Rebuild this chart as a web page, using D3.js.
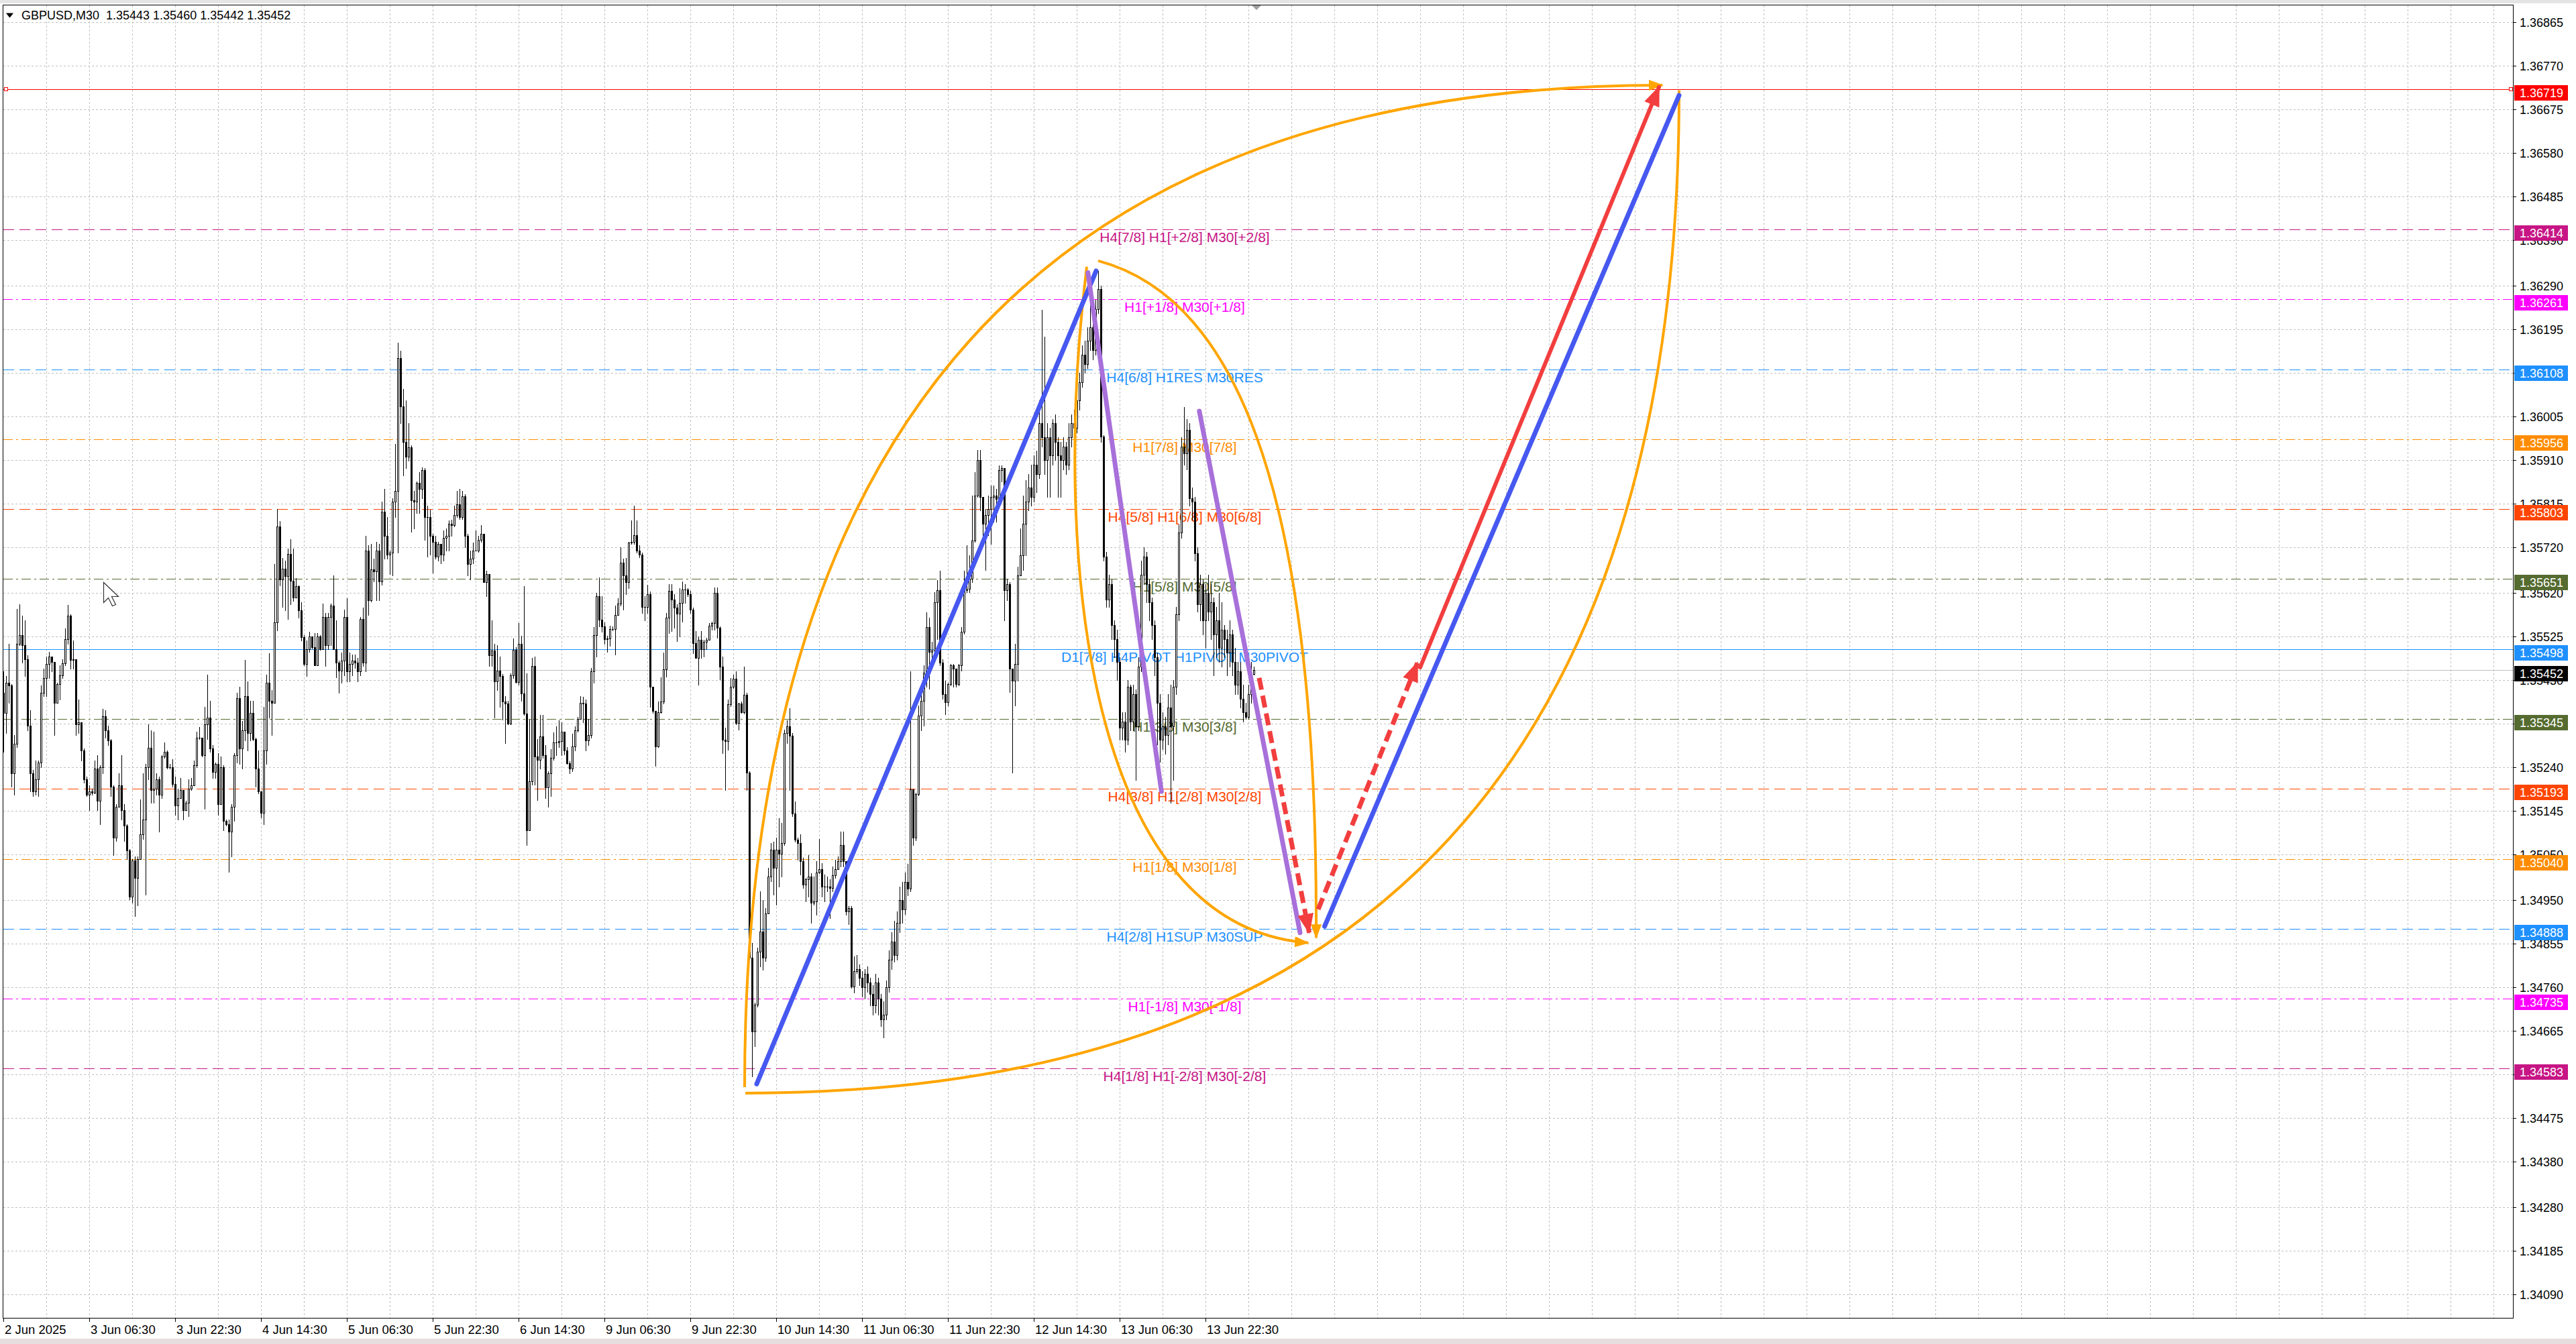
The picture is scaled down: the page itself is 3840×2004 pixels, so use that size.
<!DOCTYPE html>
<html><head><meta charset="utf-8">
<script src="https://cdn.jsdelivr.net/npm/d3@7"></script>
<style>html,body{margin:0;padding:0;background:#fff;overflow:hidden}svg{display:block}</style>
</head><body>
<svg id="chart" width="3840" height="2004"></svg>
<script>
// ---------- DATA (prices in points above BASE) ----------
const BASE = 1.34, POINT = 0.00001;
const symbolTitle = "GBPUSD,M30  1.35443 1.35460 1.35442 1.35452";
const firstOpen = 1402;
const closePts = [
1358,1425,1418,1227,1291,1509,1529,1506,1475,1331,
1227,1187,1214,1250,1402,1435,1465,1482,1470,1381,
1422,1440,1467,1519,1571,1474,1475,1334,1338,1277,
1214,1180,1187,1185,1237,1167,1240,1351,1321,1298,
1197,1086,1153,1200,1146,1113,1059,958,1036,998,
1039,1093,1126,1240,1282,1190,1193,1214,1180,1264,
1274,1240,1240,1204,1157,1173,1190,1146,1163,1193,
1200,1244,1304,1304,1267,1334,1348,1281,1230,1247,
1160,1240,1123,1116,1099,1153,1267,1391,1281,1321,
1395,1314,1358,1301,1237,1187,1140,1277,1425,1385,
1381,1556,1765,1650,1673,1657,1705,1647,1610,1635,
1583,1524,1465,1497,1526,1502,1462,1526,1497,
1568,1506,1568,1593,1498,1469,1451,1473,1568,1449,
1465,1473,1469,1449,1564,1468,1712,1605,1671,1667,
1712,1646,1798,1745,1704,1708,1819,1843,2133,2028,
1950,1917,1938,1823,1820,1860,1847,1888,1786,1786,
1745,1732,1699,1728,1704,1741,1745,1771,1768,1790,
1813,1786,1831,1745,1683,1695,1713,1713,1736,1749,
1644,1661,1484,1494,1428,1451,1439,1383,1379,1335,
1440,1496,1426,1510,1401,1357,1103,1209,1461,1264,
1256,1307,1266,1196,1227,1261,1294,1294,1297,1317,
1276,1249,1237,1286,1321,1346,1381,1379,1298,1311,
1450,1529,1613,1562,1547,1519,1521,1541,1541,1572,
1597,1687,1658,1644,1730,1732,1746,1712,1704,1590,
1590,1617,1416,1363,1286,1360,1383,1453,
1566,1625,1606,1588,1575,1598,1628,1628,1617,1584,
1511,1478,1518,1497,1513,1518,1549,1555,1620,1544,
1460,1300,1297,1377,1415,1433,1337,1379,1360,1398,
1229,824,664,722,838,882,824,921,1001,1060,
1020,1060,1052,1075,1315,1329,1309,1139,1082,1075,
1035,984,995,1001,944,948,1011,1018,980,980,
980,977,1004,1018,1035,1071,1035,926,933,761,
795,800,780,760,790,770,745,720,770,735,
690,700,760,820,860,830,900,950,930,990,
975,1192,1087,1181,1353,1385,1447,1546,1491,1495,
1600,1626,1469,1400,1382,1422,1462,1455,1422,1462,
1535,1626,1629,1651,1735,1833,1910,1830,1771,1790,
1804,1830,1833,1826,1888,1892,1626,1640,1455,1429,
1466,1658,1702,1771,1819,1850,1830,1900,1880,1990,
1960,1910,1960,1920,1990,1950,1920,1910,1940,1900,
1960,1990,1980,2040,2080,2140,2120,2170,2200,2150,
2240,2284,1961,1700,1606,1640,1550,1520,1470,1326,
1340,1300,1416,1340,1400,1330,1460,1660,1700,1640,
1600,1550,1480,1380,1300,1330,1310,1370,1330,1416,
1573,1752,1939,1925,1976,1827,1820,1707,1595,1640,
1560,1620,1580,1600,1530,1560,1500,1540,1520,1490,
1530,1470,1420,1450,1390,1360,1350,1400,1443,1452];
const highPts = [
1449,1439,1509,1422,1311,1585,1596,1571,1561,1485,
1365,1234,1254,1254,1418,1455,1482,1492,1482,1470,
1425,1462,1475,1543,1594,1573,1516,1475,1388,1338,
1281,1220,1200,1193,1254,1267,1244,1368,1365,1331,
1301,1200,1160,1227,1267,1160,1116,1062,1039,1046,
1046,1170,1227,1247,1334,1321,1318,1227,1220,1267,
1294,1277,1247,1257,1220,1193,1217,1190,1167,1214,
1217,1254,1318,1328,1304,1371,1442,1385,1288,1250,
1271,1264,1244,1126,1126,1160,1271,1402,1415,1341,
1474,1428,1385,1385,1304,1277,1187,1371,1442,1489,
1408,1683,1803,1777,1697,1690,1717,1737,1717,1653,
1636,1600,1529,1516,1536,1526,1532,1532,1529,
1597,1576,1576,1597,1658,1560,1473,1490,1584,1609,
1490,1486,1486,1478,1568,1588,1745,1724,1728,1695,
1732,1728,1819,1847,1786,1712,1827,1946,2166,2148,
2065,2041,1991,1942,1843,1864,1884,1894,1893,1810,
1802,1749,1745,1732,1712,1757,1761,1778,1780,1810,
1843,1847,1843,1835,1749,1712,1730,1757,1745,1768,
1749,1669,1662,1560,1510,1506,1482,1443,1395,1385,
1445,1521,1502,1554,1527,1635,1445,1344,1478,1482,
1301,1354,1354,1288,1231,1280,1316,1330,1342,1338,
1317,1284,1253,1313,1330,1350,1395,1393,1388,1346,
1457,1546,1621,1654,1613,1556,1527,1549,1547,1593,
1609,1720,1695,1697,1732,1778,1810,1779,1724,1708,
1613,1638,1623,1416,1363,1383,1436,1490,
1577,1640,1640,1617,1595,1630,1645,1640,1630,1625,
1588,1537,1526,1537,1518,1522,1555,1557,1632,1632,
1548,1482,1326,1388,1435,1442,1449,1380,1384,1459,
1402,1231,857,726,846,969,951,933,1020,1075,
1078,1086,1129,1118,1322,1342,1369,1315,1166,1086,
1093,1042,998,1049,1009,1002,1035,1084,1031,1006,
1002,995,1024,1038,1046,1100,1100,1002,937,937,
828,831,810,795,800,805,780,765,790,780,
745,730,775,840,880,905,925,980,990,1010,
1030,1450,1192,1185,1374,1411,1462,1578,1567,1513,
1622,1648,1669,1476,1429,1425,1466,1466,1429,1466,
1546,1669,1724,1702,1833,1884,1932,1932,1830,1804,
1833,1855,1855,1848,1899,1899,1892,1651,1644,1455,
1509,1677,1761,1833,1866,1880,1900,1920,1930,2040,
2238,2180,1990,1980,2000,2010,1960,1950,1960,1950,
1990,2010,2020,2060,2100,2160,2170,2200,2250,2220,
2260,2323,2290,1965,1710,1660,1650,1560,1540,1480,
1360,1360,1430,1420,1420,1410,1480,1690,1720,1710,
1650,1610,1560,1490,1400,1360,1350,1400,1420,1430,
1590,1770,1960,2026,2000,1990,1850,1830,1720,1660,
1650,1640,1660,1640,1610,1590,1620,1600,1550,1540,
1560,1540,1500,1470,1470,1420,1380,1420,1470,1460];
const lowPts = [
1274,1314,1381,1197,1180,1284,1506,1469,1439,1321,
1187,1177,1180,1177,1240,1395,1395,1435,1449,1311,
1381,1388,1435,1462,1509,1455,1455,1311,1314,1254,
1207,1177,1146,1180,1183,1146,1116,1227,1304,1288,
1177,1049,1079,1153,1126,1079,1039,952,945,915,
938,1039,1083,962,1214,1163,1163,1180,1099,1173,
1260,1237,1237,1197,1136,1126,1173,1126,1146,1133,
1190,1207,1240,1301,1264,1150,1301,1274,1217,1217,
1136,1160,1103,1113,1012,1046,1123,1250,1247,1237,
1298,1277,1298,1298,1197,1183,1130,1116,1247,1348,
1311,1402,1539,1636,1590,1583,1563,1596,1603,1610,
1566,1516,1462,1439,1492,1499,1462,1462,1496,
1502,1461,1498,1506,1498,1436,1403,1424,1440,1428,
1428,1440,1457,1428,1440,1461,1449,1572,1601,1646,
1605,1605,1638,1695,1695,1662,1658,1786,1708,1991,
1876,1893,1909,1753,1761,1794,1794,1827,1736,1699,
1704,1665,1695,1691,1685,1691,1712,1712,1745,1765,
1786,1782,1782,1720,1658,1650,1685,1712,1710,1732,
1644,1613,1461,1461,1348,1409,1372,1344,1293,1334,
1334,1435,1424,1420,1385,1354,1071,1102,1202,1202,
1169,1237,1260,1173,1154,1177,1256,1266,1284,1266,
1268,1247,1227,1231,1276,1317,1346,1338,1276,1288,
1305,1424,1482,1547,1535,1510,1492,1505,1539,1486,
1572,1593,1584,1617,1630,1728,1728,1708,1698,1576,
1560,1576,1371,1358,1243,1284,1358,1379,
1438,1533,1537,1544,1515,1526,1558,1598,1613,1577,
1489,1478,1420,1478,1482,1497,1526,1540,1540,1522,
1431,1271,1191,1278,1373,1413,1333,1322,1358,1357,
1191,820,566,631,718,806,798,817,922,991,
962,940,980,1002,1071,1293,1191,1133,1078,1038,
1006,977,948,958,900,940,918,1009,958,948,
969,911,969,998,1020,1024,1024,918,897,758,
748,791,765,740,735,750,720,700,705,700,
675,650,690,750,800,815,820,880,900,920,
960,970,1070,1080,1178,1320,1331,1415,1411,1455,
1487,1520,1462,1389,1356,1374,1418,1415,1415,1418,
1451,1531,1622,1622,1644,1731,1830,1801,1746,1670,
1746,1728,1775,1775,1815,1863,1560,1604,1404,1229,
1374,1429,1672,1670,1702,1800,1810,1820,1840,1870,
1940,1880,1830,1830,1900,1910,1830,1830,1890,1880,
1890,1940,1950,1970,2020,2070,2100,2110,2150,2130,
2140,2230,1950,1690,1590,1590,1520,1480,1430,1300,
1300,1273,1290,1320,1320,1212,1320,1450,1640,1600,
1560,1520,1440,1290,1252,1280,1270,1290,1162,1212,
1400,1560,1740,1900,1890,1810,1780,1690,1580,1560,
1530,1500,1560,1520,1440,1480,1470,1460,1480,1440,
1460,1440,1400,1400,1370,1340,1345,1347,1380,1442];

const timeLabels = ["2 Jun 2025","3 Jun 06:30","3 Jun 22:30","4 Jun 14:30","5 Jun 06:30","5 Jun 22:30","6 Jun 14:30","9 Jun 06:30","9 Jun 22:30","10 Jun 14:30","11 Jun 06:30","11 Jun 22:30","12 Jun 14:30","13 Jun 06:30","13 Jun 22:30"];
const timeLabelBars = [0,32,64,96,128,160,192,224,256,288,320,352,384,416,448];
const priceTicks = [1.36865,1.36770,1.36675,1.36580,1.36485,1.36390,1.36290,1.36195,1.36100,1.36005,1.35910,1.35815,1.35720,1.35620,1.35525,1.35430,1.35335,1.35240,1.35145,1.35050,1.34950,1.34855,1.34760,1.34665,1.34570,1.34475,1.34380,1.34280,1.34185,1.34090];

const levelPrices = [1.36719,1.36414,1.36261,1.36108,1.35956,1.35803,1.35651,1.35498,1.35345,1.35193,1.35040,1.34888,1.34735,1.34583];
const levelTexts = ["","H4[7/8] H1[+2/8] M30[+2/8]","H1[+1/8] M30[+1/8]","H4[6/8] H1RES M30RES","H1[7/8] M30[7/8]","H4[5/8] H1[6/8] M30[6/8]","H1[5/8] M30[5/8]","D1[7/8] H4PIVOT H1PIVOT M30PIVOT","H1[3/8] M30[3/8]","H4[3/8] H1[2/8] M30[2/8]","H1[1/8] M30[1/8]","H4[2/8] H1SUP M30SUP","H1[-1/8] M30[-1/8]","H4[1/8] H1[-2/8] M30[-2/8]"];
const bidPrice = 1.35452;
const levelTextBar = 440.25;

// drawing anchors [bar, price]
const orangeUpperArc = [[276.25,1.34542],[276.25,1.36728],[618.25,1.36728]];
const orangeLowerArc = [[276.5,1.34529],[624.5,1.34529],[624.5,1.36717]];
const orangeInnerLeft = [[403.75,1.36332],[391.25,1.35743],[401.25,1.34895],[486.25,1.34857]];
const orangeInnerRight = [[408,1.36345],[456.25,1.36270],[490,1.35890],[489.25,1.34868]];
const blueTrend1 = [[280.75,1.34549],[407.25,1.36323]];
const blueTrend2 = [[492.4,1.34893],[624.5,1.36706]];
const purpleTrend1 = [[404.2,1.36319],[431.6,1.35187]];
const purpleTrend2 = [[445.7,1.36017],[483.25,1.34879]];
const redDashDown = [[468,1.35435],[486.65,1.34879]];
const redDashUp = [[490,1.34930],[527,1.35468]];
const redSolidUp = [[528,1.35458],[617,1.36724]];
const cursorAnchor = [37.25, 1.35644];

// ---------- STYLES ----------
const levelColors = ["#FF0000","#C71585","#FF00FF","#1E90FF","#FF8C00","#FF4500","#556B2F","#1E90FF","#556B2F","#FF4500","#FF8C00","#1E90FF","#FF00FF","#C71585"];
const levelDashes = ["","16,8","14,5,3,5","16,8","14,5,3,5","16,8","14,5,3,5","","14,5,3,5","16,8","14,5,3,5","16,8","14,5,3,5","16,8"];
const FONT = "'Liberation Sans', Arial, sans-serif";
const ORANGE = "#FFA500", BLUE = "#4658F0", PURPLE = "#A870DA", RED = "#F23E3E";

// ---------- SCALES ----------
const L = 5, R = 3746, T = 8, B = 1965;
const x = d3.scaleLinear().domain([0, 935.25]).range([L, R]);
const y = d3.scaleLinear().domain([1.340387, 1.369023]).range([B, T]);
const P = v => BASE + v * POINT;
const cy = p => Math.round(y(p)) + 0.5;

const svg = d3.select("#chart");
svg.append("rect").attr("width",3840).attr("height",2004).attr("fill","#ffffff");
svg.append("rect").attr("x",0).attr("y",0).attr("width",3840).attr("height",5).attr("fill","#E4E4E4");
svg.append("rect").attr("x",0).attr("y",1996).attr("width",3840).attr("height",8).attr("fill","#E6DEDE");

const defs = svg.append("defs");
defs.append("clipPath").attr("id","plotClip").append("rect").attr("x",L).attr("y",T).attr("width",R-L).attr("height",B-T);
function marker(id, color, len, wid){
  defs.append("marker").attr("id",id).attr("markerUnits","userSpaceOnUse")
    .attr("markerWidth",len).attr("markerHeight",wid).attr("refX",len-2).attr("refY",wid/2)
    .attr("orient","auto").append("path")
    .attr("d",`M0,0 L${len},${wid/2} L0,${wid} Z`).attr("fill",color);
}
marker("arrOrange", ORANGE, 22, 16);
marker("arrRed", RED, 30, 24);

const plot = svg.append("g").attr("clip-path","url(#plotClip)");

// grid
const gridG = plot.append("g");
priceTicks.forEach(p => {
  gridG.append("line").attr("x1",L).attr("x2",R).attr("y1",cy(p)).attr("y2",cy(p))
    .attr("stroke","#C0C0C0").attr("stroke-width",1).attr("stroke-dasharray","3,3");
});
for (let b = 16; x(b) < R; b += 16) {
  const xx = Math.round(x(b)) + 0.5;
  gridG.append("line").attr("x1",xx).attr("x2",xx).attr("y1",T).attr("y2",B)
    .attr("stroke","#C0C0C0").attr("stroke-width",1).attr("stroke-dasharray","3,3");
}

// level lines
const lvlG = plot.append("g");
levelPrices.forEach((p,i) => {
  lvlG.append("line").attr("x1",L).attr("x2",R).attr("y1",cy(p)).attr("y2",cy(p))
    .attr("stroke",levelColors[i]).attr("stroke-width",1)
    .attr("stroke-dasharray",levelDashes[i] || null);
});
lvlG.append("line").attr("x1",L).attr("x2",R).attr("y1",cy(bidPrice)).attr("y2",cy(bidPrice))
  .attr("stroke","#C0C0C0").attr("stroke-width",1);
[L+1, R-6].forEach(sx => {
  lvlG.append("rect").attr("x",sx+0.5).attr("y",cy(levelPrices[0])-3).attr("width",5).attr("height",5)
    .attr("fill","#fff").attr("stroke","#FF0000").attr("stroke-width",1);
});

// level texts
const txtG = plot.append("g");
levelPrices.forEach((p,i) => {
  if (!levelTexts[i]) return;
  txtG.append("text").attr("x",x(levelTextBar)).attr("y",Math.round(y(p)) + 19)
    .attr("text-anchor","middle").attr("font-family",FONT).attr("font-size",21)
    .attr("fill",levelColors[i]).text(levelTexts[i]);
});

// candles
const cG = plot.append("g");
closePts.forEach((c,i) => {
  const o = i === 0 ? firstOpen : closePts[i-1];
  const h = Math.max(highPts[i], o, c), l = Math.min(lowPts[i], o, c);
  const xc = Math.round(x(i));
  cG.append("line").attr("x1",xc+0.5).attr("x2",xc+0.5)
    .attr("y1",Math.round(y(P(h)))).attr("y2",Math.round(y(P(l)))+1)
    .attr("stroke","#000").attr("stroke-width",1);
  const top = Math.round(y(P(Math.max(o,c)))), bot = Math.round(y(P(Math.min(o,c))));
  if (bot - top < 1) {
    cG.append("line").attr("x1",xc-1).attr("x2",xc+2).attr("y1",top+0.5).attr("y2",top+0.5)
      .attr("stroke","#000").attr("stroke-width",1);
  } else {
    cG.append("rect").attr("x",xc-0.5).attr("y",top+0.5).attr("width",2).attr("height",bot-top)
      .attr("fill", c > o ? "#fff" : "#000").attr("stroke","#000").attr("stroke-width",1);
  }
});

// drawings
const dG = plot.append("g").attr("fill","none");
const pt = a => [x(a[0]), y(a[1])];
function quad(a, color, w, mk){
  const [p0,c1,p1] = a.map(pt);
  const pth = dG.append("path").attr("d",`M${p0} Q${c1} ${p1}`).attr("stroke",color).attr("stroke-width",w).attr("fill","none");
  if (mk) pth.attr("marker-end",`url(#${mk})`);
}
function cubic(a, color, w, mk){
  const [p0,c1,c2,p1] = a.map(pt);
  const pth = dG.append("path").attr("d",`M${p0} C${c1} ${c2} ${p1}`).attr("stroke",color).attr("stroke-width",w).attr("fill","none");
  if (mk) pth.attr("marker-end",`url(#${mk})`);
}
function seg(a, color, w, dash, mk){
  const [p0,p1] = a.map(pt);
  const ln = dG.append("line").attr("x1",p0[0]).attr("y1",p0[1]).attr("x2",p1[0]).attr("y2",p1[1])
    .attr("stroke",color).attr("stroke-width",w).attr("stroke-linecap", dash ? "butt" : "round");
  if (dash) ln.attr("stroke-dasharray",dash);
  if (mk) ln.attr("marker-end",`url(#${mk})`);
}
quad(orangeUpperArc, ORANGE, 4, "arrOrange");
quad(orangeLowerArc, ORANGE, 4, null);
cubic(orangeInnerLeft, ORANGE, 4, "arrOrange");
cubic(orangeInnerRight, ORANGE, 4, "arrOrange");
seg(blueTrend1, BLUE, 7, null, null);
seg(blueTrend2, BLUE, 7, null, null);
seg(purpleTrend1, PURPLE, 7, null, null);
seg(purpleTrend2, PURPLE, 7, null, null);
seg(redDashDown, RED, 7, "18,9", "arrRed");
seg(redDashUp, RED, 7, "18,9", "arrRed");
seg(redSolidUp, RED, 6, null, "arrRed");

// mouse pointer left on the chart
const [cxp, cyp] = pt(cursorAnchor);
plot.append("path")
  .attr("d","M0,0 L0,30 L7,23 L13,35 L18,33 L12,21 L22,21 Z")
  .attr("transform",`translate(${Math.round(cxp)+0.5},${Math.round(cyp)+0.5})`)
  .attr("fill","#fff").attr("stroke","#333").attr("stroke-width",1.2);

// frame
svg.append("rect").attr("x",L-0.5).attr("y",T-0.5).attr("width",R-L+1).attr("height",B-T+1)
  .attr("fill","none").attr("stroke","#000").attr("stroke-width",1);

// price axis
const axG = svg.append("g").attr("font-family",FONT).attr("font-size",18);
priceTicks.forEach(p => {
  axG.append("line").attr("x1",R).attr("x2",R+5).attr("y1",cy(p)).attr("y2",cy(p)).attr("stroke","#000");
  axG.append("text").attr("x",3756).attr("y",Math.round(y(p))+6.5).attr("fill","#000").text(p.toFixed(5));
});
const boxPrices = levelPrices.concat([bidPrice]);
const boxColors = levelColors.concat(["#000000"]);
boxPrices.forEach((p,i) => {
  const yy = Math.round(y(p));
  axG.append("rect").attr("x",3748).attr("y",yy-6).attr("width",80).attr("height",23).attr("fill",boxColors[i]);
  axG.append("text").attr("x",3756).attr("y",yy+12).attr("fill","#fff").text(p.toFixed(5));
});

// time axis
const tG = svg.append("g").attr("font-family",FONT).attr("font-size",18.5);
timeLabels.forEach((s,k) => {
  const xx = Math.round(x(timeLabelBars[k])) + 0.5;
  tG.append("line").attr("x1",xx).attr("x2",xx).attr("y1",B).attr("y2",B+6).attr("stroke","#000");
  tG.append("text").attr("x",xx+1.5).attr("y",1988.5).attr("fill","#000").text(s);
});

// title
svg.append("path").attr("d","M9,19.5 L20,19.5 L14.5,26.5 Z").attr("fill","#000");
svg.append("text").attr("x",32).attr("y",29).attr("font-family",FONT).attr("font-size",18)
  .attr("fill","#000").style("white-space","pre").text(symbolTitle);
// chart shift marker
svg.append("path").attr("d",`M${x(467)-7},${T} L${x(467)+7},${T} L${x(467)},${T+7} Z`).attr("fill","#A0A0A0");
</script>
</body></html>
